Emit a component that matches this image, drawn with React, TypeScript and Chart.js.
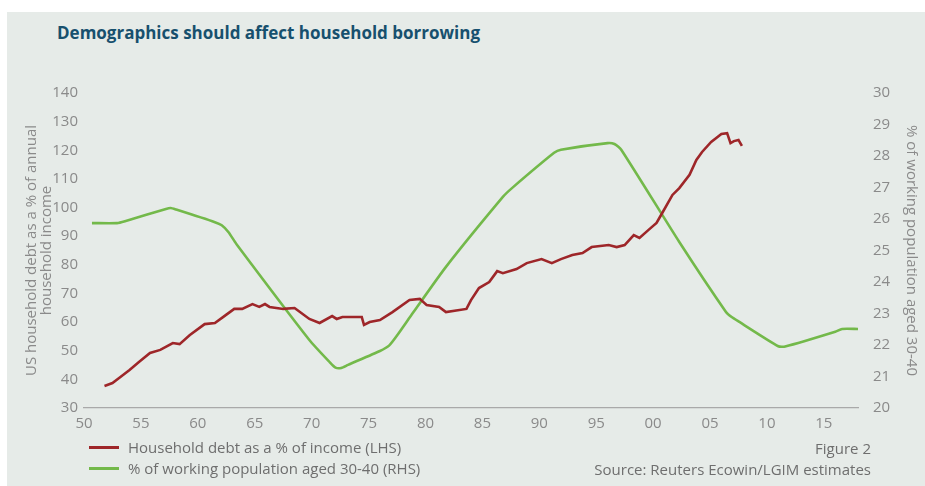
import React, { useEffect, useRef } from "react";
import { Chart, registerables } from "chart.js";

Chart.register(...registerables);

// Household debt as a % of income (LHS)
const debtYears = [
  1951.8, 1952.5, 1953.2, 1954.0, 1954.8, 1955.8, 1956.7, 1957.8, 1958.4, 1959.3,
  1960.6, 1961.5, 1962.3, 1963.2, 1963.9, 1964.8, 1965.4, 1965.9, 1966.3, 1967.5,
  1968.5, 1969.8, 1970.7, 1971.8, 1972.2, 1972.7, 1973.6, 1974.4, 1974.6, 1975.1,
  1976.0, 1977.1, 1978.6, 1979.5, 1980.1, 1981.2, 1981.8, 1983.6, 1984.0, 1984.7,
  1985.6, 1986.3, 1986.8, 1988.0, 1988.9, 1990.2, 1991.1, 1991.9, 1992.9, 1993.8,
  1994.6, 1996.1, 1996.8, 1997.5, 1998.3, 1998.8, 1999.6, 2000.3, 2000.7, 2001.7,
  2002.3, 2003.2, 2003.8, 2004.3, 2005.1, 2006.0, 2006.5, 2006.8, 2007.1, 2007.5,
  2007.8,
];
const debtValues = [
  37.7, 38.7, 40.8, 43.3, 46.0, 49.2, 50.3, 52.7, 52.3, 55.5,
  59.3, 59.7, 62.0, 64.6, 64.6, 66.3, 65.3, 66.3, 65.3, 64.6,
  64.9, 61.1, 59.7, 62.1, 61.1, 61.8, 61.8, 61.8, 59.0, 60.0,
  60.7, 63.5, 67.7, 68.1, 66.0, 65.3, 63.5, 64.6, 67.7, 71.9,
  74.0, 77.8, 77.1, 78.5, 80.6, 82.0, 80.6, 82.0, 83.4, 84.1,
  86.2, 86.9, 86.2, 86.9, 90.4, 89.4, 92.2, 94.6, 97.4, 104.4,
  106.8, 111.4, 116.6, 119.4, 122.9, 125.7, 126.0, 122.5, 123.2, 123.6,
  121.5,
];

// % of working population aged 30-40 (RHS)
const popYears = [
  1950.7, 1952.9, 1953.6, 1957.2, 1957.6, 1958.1, 1961.5, 1962.1, 1962.7, 1963.4,
  1969.8, 1971.6, 1972.1, 1972.6, 1973.2, 1976.0, 1976.8, 1977.5, 1978.9, 1981.8,
  1986.8, 1987.6, 1991.3, 1991.9, 1996.0, 1996.6, 1997.2, 2002.3, 2006.4, 2006.9,
  2007.5, 2011.0, 2011.6, 2016.0, 2016.6, 2018.0,
];
const popValues = [
  25.87, 25.87, 25.93, 26.32, 26.35, 26.3, 25.9, 25.8, 25.58, 25.2,
  22.16, 21.45, 21.28, 21.27, 21.37, 21.81, 21.98, 22.3, 23.02, 24.48,
  26.7, 26.98, 28.1, 28.2, 28.41, 28.38, 28.2, 25.27, 23.05, 22.89,
  22.75, 21.96, 21.95, 22.42, 22.51, 22.51,
];

const xTickLabels = ["50", "55", "60", "65", "70", "75", "80", "85", "90", "95", "00", "05", "10", "15"];

const titleText = "Demographics should affect household borrowing";
const debtLabel = "Household debt as a % of income (LHS)";
const popLabel = "% of working population aged 30-40 (RHS)";
const leftAxisTitle = ["US household debt as a % of annual", "household income"];
const rightAxisTitle = "% of working population aged 30-40";

const RED = "#9E2629";
const GREEN = "#73B94A";
const FONT = "'Open Sans', 'DejaVu Sans', sans-serif";
const TICK_COLOR = "#8a8a8a";
const TEXT_COLOR = "#6e6e6e";

export default function App() {
  const canvasRef = useRef<HTMLCanvasElement | null>(null);

  useEffect(() => {
    if (!canvasRef.current) return;
    const chart = new Chart(canvasRef.current, {
      type: "line",
      data: {
        datasets: [
          {
            label: debtLabel,
            data: debtYears.map((x, i) => ({ x, y: debtValues[i] })),
            borderColor: RED,
            borderWidth: 2.6,
            pointRadius: 0,
            tension: 0,
            yAxisID: "y",
          },
          {
            label: popLabel,
            data: popYears.map((x, i) => ({ x, y: popValues[i] })),
            borderColor: GREEN,
            borderWidth: 2.6,
            pointRadius: 0,
            tension: 0.2,
            yAxisID: "y1",
          },
        ],
      },
      options: {
        animation: false,
        responsive: false,
        maintainAspectRatio: false,
        layout: { padding: { left: 0, right: 0, top: 93, bottom: 48 } },
        plugins: { legend: { display: false }, tooltip: { enabled: false } },
        scales: {
          x: {
            type: "linear",
            min: 1950,
            max: 2018,
            grid: { display: false, drawTicks: false },
            border: { display: true, color: "#a9a9a9", width: 1.2 },
            ticks: {
              stepSize: 5,
              includeBounds: false,
              padding: 7,
              color: TICK_COLOR,
              font: { family: FONT, size: 15 },
              maxRotation: 0,
              autoSkip: false,
              callback: (v: any) => {
                const i = Math.round((Number(v) - 1950) / 5);
                return xTickLabels[i] ?? "";
              },
            },
            afterFit: (s: any) => {
              s.height = 30;
            },
          },
          y: {
            position: "left",
            min: 30,
            max: 140,
            grid: { display: false, drawTicks: false },
            border: { display: false },
            ticks: { stepSize: 10, padding: 6, color: TICK_COLOR, font: { family: FONT, size: 15 } },
            title: {
              display: true,
              text: leftAxisTitle,
              color: TICK_COLOR,
              font: { family: FONT, size: 15, lineHeight: 1.0 },
              padding: { top: 24, bottom: 0 },
            },
            afterFit: (s: any) => {
              s.width = 84;
            },
          },
          y1: {
            position: "right",
            min: 20,
            max: 30,
            grid: { display: false, drawTicks: false },
            border: { display: false },
            ticks: { stepSize: 1, padding: 15, color: TICK_COLOR, font: { family: FONT, size: 15 } },
            title: {
              display: true,
              text: rightAxisTitle,
              color: TICK_COLOR,
              font: { family: FONT, size: 15, lineHeight: 1.0 },
              padding: { top: 6, bottom: 0 },
            },
            afterFit: (s: any) => {
              s.width = 67;
            },
          },
        },
      },
    });
    return () => chart.destroy();
  }, []);

  const textStyle: React.CSSProperties = {
    position: "absolute",
    fontFamily: FONT,
    fontSize: 15,
    lineHeight: "18px",
    color: TEXT_COLOR,
    whiteSpace: "nowrap",
  };

  return (
    <div style={{ position: "absolute", left: 0, top: 0, width: 925, height: 486, background: "#ffffff", overflow: "hidden" }}>
      <div style={{ position: "absolute", left: 7, top: 12, width: 918, height: 474, background: "#E6EBE8" }} />
      <div
        style={{
          position: "absolute",
          left: 57,
          top: 21,
          fontFamily: FONT,
          fontWeight: 700,
          fontSize: 17,
          lineHeight: "24px",
          color: "#17506E",
          whiteSpace: "nowrap",
        }}
      >
        {titleText}
      </div>
      <canvas ref={canvasRef} width={925} height={486} style={{ position: "absolute", left: 0, top: 0, width: 925, height: 486 }} />
      <div style={{ position: "absolute", left: 89, top: 446, width: 30, height: 3, background: RED }} />
      <div style={{ ...textStyle, left: 128, top: 438 }}>{debtLabel}</div>
      <div style={{ position: "absolute", left: 89, top: 467, width: 30, height: 3, background: GREEN }} />
      <div style={{ ...textStyle, left: 128, top: 459 }}>{popLabel}</div>
      <div style={{ ...textStyle, right: 54, top: 439, textAlign: "right" }}>Figure 2</div>
      <div style={{ ...textStyle, right: 54, top: 460, textAlign: "right" }}>Source: Reuters Ecowin/LGIM estimates</div>
    </div>
  );
}
